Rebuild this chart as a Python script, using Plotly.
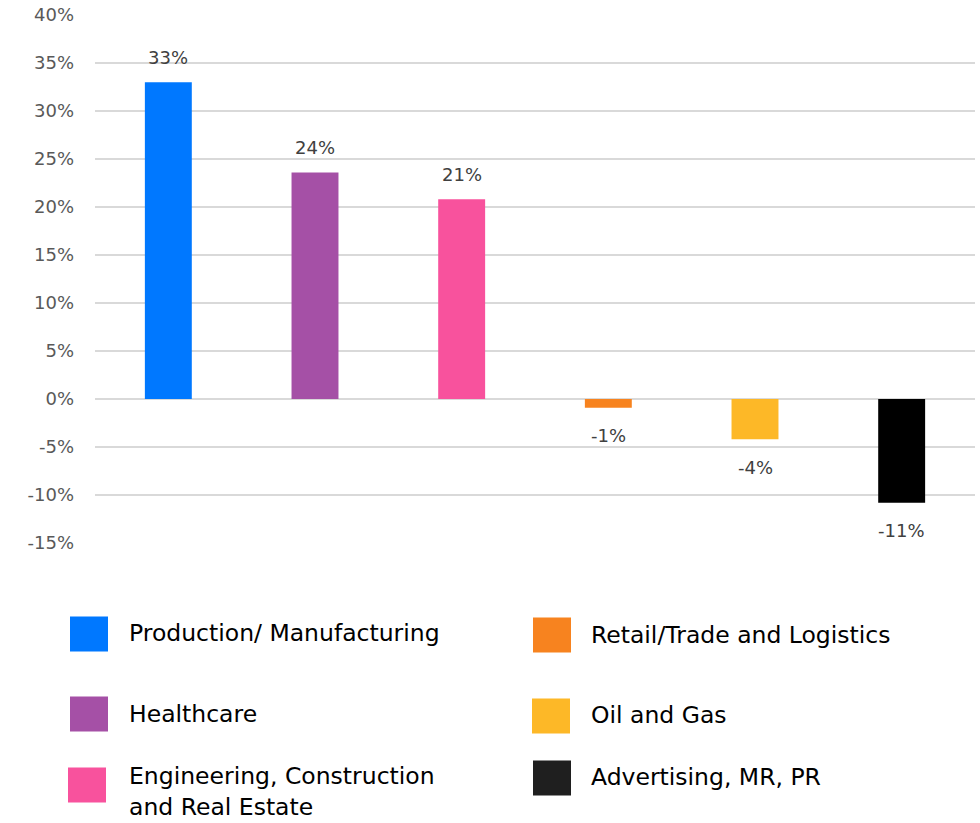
import plotly.graph_objects as go

categories = ["Production/ Manufacturing", "Healthcare", "Engineering, Construction and Real Estate",
              "Retail/Trade and Logistics", "Oil and Gas", "Advertising, MR, PR"]
legend_names = ["Production/ Manufacturing", "Healthcare", "Engineering, Construction<br>and Real Estate",
                "Retail/Trade and Logistics", "Oil and Gas", "Advertising, MR, PR"]
values = [33.0, 23.6, 20.8, -0.9, -4.2, -10.8]
colors = ["#0078FF", "#A550A6", "#F8529D", "#F7831F", "#FDB827", "#000000"]
legend_colors = ["#0078FF", "#A550A6", "#F8529D", "#F7831F", "#FDB827", "#1F1F1F"]
tick_vals = [-15, -10, -5, 0, 5, 10, 15, 20, 25, 30, 35, 40]
tick_text = [f"{v}%" for v in tick_vals]

FONT = "DejaVu Sans"
W, H = 980, 823
ML, MR, MT, MB = 95, 5, 15, 280
PW, PH = W - ML - MR, H - MT - MB


def px_x(px):
    return (px - ML) / PW


def px_y(py):
    return (H - MB - py) / PH


fig = go.Figure()
for i, cat in enumerate(categories):
    fig.add_trace(go.Bar(
        x=[cat], y=[values[i]], name=legend_names[i],
        marker=dict(color=colors[i], line=dict(width=0)),
        width=0.32, showlegend=False,
    ))
    fig.add_annotation(
        x=cat, y=values[i], text=f"{values[i]:.0f}%", showarrow=False,
        yshift=25 if values[i] >= 0 else -28, yanchor="middle",
        font=dict(family=FONT, size=18, color="#404040"),
    )

# custom legend (2 columns x 3 rows), layout positions in pixels
swatch_x = [70, 70, 68, 533, 532, 533]
swatch_y = [634, 714, 785, 635, 716, 778]
text_x = [127, 127, 127, 589, 589, 589]
text_y = [633, 714, 791, 635, 715, 777]
for i in range(len(categories)):
    fig.add_shape(type="rect", xref="paper", yref="paper",
                  x0=px_x(swatch_x[i]), x1=px_x(swatch_x[i] + 38),
                  y0=px_y(swatch_y[i] - 17.5), y1=px_y(swatch_y[i] + 17.5),
                  fillcolor=legend_colors[i], line=dict(width=0), layer="above")
    fig.add_annotation(xref="paper", yref="paper", x=px_x(text_x[i]), y=px_y(text_y[i]),
                       xanchor="left", yanchor="middle", align="left", showarrow=False,
                       text=legend_names[i],
                       font=dict(family=FONT, size=23.5, color="#000000"))

fig.update_layout(
    width=W, height=H,
    margin=dict(l=ML, r=MR, t=MT, b=MB, autoexpand=False),
    plot_bgcolor="white", paper_bgcolor="white",
    barmode="overlay", showlegend=False,
    font=dict(family=FONT),
    xaxis=dict(categoryorder="array", categoryarray=categories, showticklabels=False,
               showgrid=False, zeroline=False, showline=False),
    yaxis=dict(range=[-15, 40], tickvals=tick_vals, ticktext=tick_text,
               showgrid=True, gridcolor="#D9D9D9", gridwidth=1.5,
               zeroline=True, zerolinecolor="#D9D9D9", zerolinewidth=1.5,
               tickfont=dict(family=FONT, size=18, color="#595959"),
               ticklabelstandoff=20, showline=False),
)

fig.write_html("out.html")
